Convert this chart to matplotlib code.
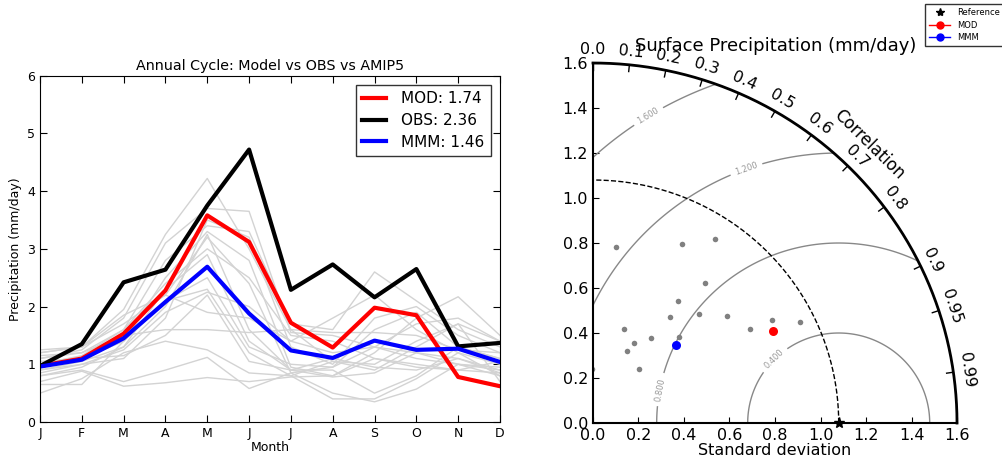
import numpy as np
import matplotlib
matplotlib.use('Agg')
import matplotlib.pyplot as plt
from matplotlib.lines import Line2D

# annual cycle data (mm/day)
months = ['J', 'F', 'M', 'A', 'M', 'J', 'J', 'A', 'S', 'O', 'N', 'D']
mod = [0.97, 1.10, 1.53, 2.28, 3.58, 3.12, 1.72, 1.29, 1.98, 1.85, 0.78, 0.62]
obs = [0.97, 1.35, 2.42, 2.64, 3.75, 4.72, 2.29, 2.73, 2.16, 2.65, 1.31, 1.37]
mmm = [0.96, 1.08, 1.45, 2.08, 2.69, 1.88, 1.24, 1.11, 1.41, 1.25, 1.27, 1.04]
amip = [
    [1.25, 1.30, 1.95, 3.25, 4.22, 3.00, 1.60, 1.05, 0.90, 1.30, 1.70, 1.40],
    [1.10, 1.25, 1.80, 3.10, 3.70, 3.65, 1.55, 1.50, 1.30, 1.10, 1.00, 0.90],
    [1.00, 1.15, 1.60, 2.80, 3.40, 3.30, 1.70, 1.60, 2.60, 2.10, 1.60, 1.30],
    [0.95, 1.10, 1.40, 2.50, 3.30, 2.80, 0.95, 0.80, 1.20, 1.80, 2.17, 1.50],
    [1.20, 1.30, 1.70, 2.20, 3.20, 2.40, 0.85, 0.95, 1.60, 1.90, 1.30, 1.10],
    [0.90, 1.05, 1.30, 2.00, 3.25, 1.60, 0.90, 0.78, 0.85, 1.20, 1.10, 0.85],
    [0.85, 1.00, 1.25, 1.90, 2.25, 2.00, 1.40, 1.80, 2.20, 1.60, 1.20, 0.80],
    [1.15, 1.20, 1.50, 1.60, 1.60, 1.55, 1.60, 1.55, 1.55, 1.50, 1.25, 1.20],
    [0.50, 0.75, 1.20, 1.40, 1.25, 0.85, 0.80, 0.40, 0.40, 0.75, 1.20, 1.00],
    [0.70, 0.88, 0.62, 0.68, 0.77, 0.70, 0.78, 0.80, 1.10, 1.00, 0.90, 0.85],
    [0.80, 0.90, 0.70, 0.90, 1.12, 0.58, 0.85, 0.50, 0.35, 0.57, 1.00, 0.80],
    [1.05, 1.10, 1.15, 1.50, 2.20, 1.05, 0.90, 0.90, 0.50, 0.80, 1.30, 1.10],
    [0.65, 0.65, 1.40, 2.10, 2.30, 1.20, 0.80, 1.05, 1.00, 1.40, 1.70, 0.70],
    [1.20, 1.30, 1.85, 2.20, 1.90, 1.80, 1.40, 1.20, 1.30, 1.70, 1.80, 1.40],
    [1.00, 1.10, 1.40, 2.10, 2.50, 1.30, 1.00, 0.95, 1.30, 1.20, 1.00, 0.95],
    [0.80, 0.95, 1.30, 2.30, 2.90, 1.40, 0.90, 1.10, 0.95, 0.90, 1.10, 0.90],
    [1.10, 1.20, 1.60, 2.40, 3.00, 2.50, 1.50, 1.40, 1.10, 0.95, 0.90, 1.05],
    [0.90, 1.00, 1.10, 1.80, 3.50, 3.20, 1.30, 1.00, 1.80, 2.00, 1.50, 1.20],
]
mod_mean = 1.74
obs_mean = 2.36
mmm_mean = 1.46

# taylor diagram data
ref_std = 1.08
amip_std = [0.787, 0.887, 0.976, 0.794, 0.659, 0.580, 0.673, 0.758, 0.806,
            0.910, 1.016, 0.537, 0.441, 0.456, 0.400, 0.352, 0.312, 0.240]
amip_corr = [0.127, 0.440, 0.549, 0.622, 0.568, 0.583, 0.693, 0.777, 0.855,
             0.863, 0.897, 0.702, 0.308, 0.559, 0.455, 0.421, 0.644, -0.02]
mod_std, mod_corr = 0.892, 0.889
mmm_std, mmm_corr = 0.502, 0.723
corr_ticks = [0.0, 0.1, 0.2, 0.3, 0.4, 0.5, 0.6, 0.7, 0.8, 0.9, 0.95, 0.99]
rms_levels = [0.4, 0.8, 1.2, 1.6]
smax = 1.6

fig = plt.figure(figsize=(10.02, 4.58), dpi=100)

# ---- left: annual cycle
ax = fig.add_axes([0.0399, 0.0786, 0.4591, 0.7561])
x = np.arange(12)
for s in amip:
    ax.plot(x, s, color='#d3d3d3', lw=1)
ax.plot(x, mod, color='red', lw=3, label='MOD: %.2f' % mod_mean)
ax.plot(x, obs, color='black', lw=3, label='OBS: %.2f' % obs_mean)
ax.plot(x, mmm, color='blue', lw=3, label='MMM: %.2f' % mmm_mean)
ax.set_xlim(0, 11)
ax.set_ylim(0, 6)
ax.set_xticks(x)
ax.set_xticklabels(months)
ax.tick_params(direction='in', top=True, right=True, labelsize=9, length=5)
ax.set_title('Annual Cycle: Model vs OBS vs AMIP5', fontsize=10.3, pad=4)
ax.set_xlabel('Month', fontsize=9, labelpad=1)
ax.set_ylabel('Precipitation (mm/day)', fontsize=9)
leg = ax.legend(loc='upper right', fontsize=11, fancybox=False, handlelength=1.6,
                handletextpad=1.0, labelspacing=0.45, borderaxespad=0.6)
leg.get_frame().set_edgecolor('black')

# ---- right: taylor diagram
tx = fig.add_axes([0.5918, 0.0764, 0.3633, 0.786])
tx.set_xlim(0, smax)
tx.set_ylim(0, smax)
for sp in ['top', 'right']:
    tx.spines[sp].set_visible(False)
for sp in ['left', 'bottom']:
    tx.spines[sp].set_linewidth(1.5)
tx.set_xticks(np.arange(0, 1.61, 0.2))
tx.set_yticks(np.arange(0, 1.61, 0.2))
tx.xaxis.set_major_formatter(plt.FormatStrFormatter('%.1f'))
tx.yaxis.set_major_formatter(plt.FormatStrFormatter('%.1f'))
tx.tick_params(direction='in', labelsize=11.5, length=4)
tx.set_xlabel('Standard deviation', fontsize=11.5, labelpad=0)

# rms contours
gx, gy = np.meshgrid(np.linspace(0, smax, 500), np.linspace(0, smax, 500))
rms = np.sqrt((gx - ref_std) ** 2 + gy ** 2)
rms = np.ma.masked_where(np.hypot(gx, gy) > smax, rms)
cs = tx.contour(gx, gy, rms, levels=rms_levels, colors='#888888', linewidths=1)
tx.clabel(cs, fmt='%.3f', fontsize=6, colors='#999999', inline=True,
          manual=[(0.79, 0.29), (0.29, 0.15), (0.67, 1.14), (0.24, 1.37)])

# outer arc and reference arc
th = np.linspace(0, np.pi / 2, 300)
tx.plot(smax * np.cos(th), smax * np.sin(th), color='black', lw=2, clip_on=False)
tx.plot(ref_std * np.cos(th), ref_std * np.sin(th), 'k--', lw=1)

# correlation ticks
for c in corr_ticks:
    t = np.arccos(c)
    tx.plot([smax * np.cos(t), (smax - 0.03) * np.cos(t)],
            [smax * np.sin(t), (smax - 0.03) * np.sin(t)], color='black', lw=1, clip_on=False)
    r = smax + 0.06
    tx.text(r * np.cos(t), r * np.sin(t), '0.0' if c == 0 else '%g' % c,
            rotation=np.degrees(t) - 90, ha='center', va='center',
            rotation_mode='anchor', fontsize=11.5)
ct = np.radians(45.5)
tx.text(1.735 * np.cos(ct), 1.735 * np.sin(ct), 'Correlation', rotation=-44.5,
        ha='center', va='center', rotation_mode='anchor', fontsize=12)

# points
ac = np.array(amip_corr)
asd = np.array(amip_std)
tx.plot(asd * ac, asd * np.sqrt(1 - ac ** 2), 'o', color='#808080', ms=4, mec='none')
tx.plot(mod_std * mod_corr, mod_std * np.sqrt(1 - mod_corr ** 2), 'o', color='red', ms=6.5, mec='none')
tx.plot(mmm_std * mmm_corr, mmm_std * np.sqrt(1 - mmm_corr ** 2), 'o', color='blue', ms=6.5, mec='none')
tx.plot(ref_std, 0, '*', color='black', ms=8, clip_on=False, zorder=5)

fig.text(0.774, 0.9, 'Surface Precipitation (mm/day)', fontsize=13, ha='center', va='center')

handles = [Line2D([], [], ls='none', marker='*', color='black', ms=6),
           Line2D([], [], color='red', marker='o', ms=5, lw=1),
           Line2D([], [], color='blue', marker='o', ms=5, lw=1)]
fl = fig.legend(handles, ['Reference', 'MOD', 'MMM'], loc='upper left',
                bbox_to_anchor=(0.919, 1.0), fontsize=6, fancybox=False,
                numpoints=1, handlelength=2.5, borderpad=0.5, labelspacing=0.4)
fl.get_frame().set_edgecolor('black')

fig.savefig('out.png', dpi=100)
